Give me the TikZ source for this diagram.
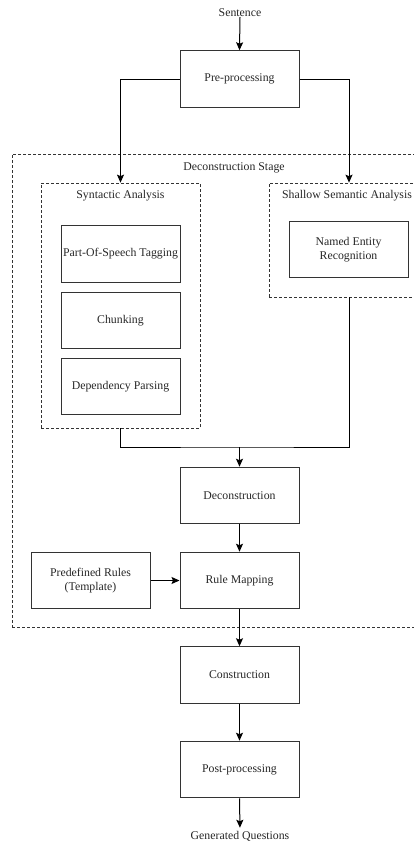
\documentclass[tikz,border=0pt]{standalone}
\usepackage{fontspec}
\setmainfont{Liberation Serif}
\usetikzlibrary{arrows.meta}
\begin{document}
\begin{tikzpicture}[x=1pt,y=-1pt,
  every node/.style={font=\fontsize{11.8}{13.8}\selectfont, inner sep=0pt, align=center, text=black!85},
  box/.style={draw=black!80, line width=1pt, minimum width=119pt, minimum height=56.5pt},
  grp/.style={draw=black!80, line width=0.7pt, dash pattern=on 3pt off 2pt},
  arr/.style={line width=1pt, -{Stealth[length=8pt,width=7pt,inset=1.5pt]}},
  ln/.style={line width=1pt}]
\useasboundingbox (0,0) rectangle (414,843);
\clip (0,0) rectangle (414,843);
% groups
\node[grp, minimum width=458pt, minimum height=473pt] (stage) at (241,390.5) {};
\node (stagetitle) at (234,168) {Deconstruction Stage};
\node[grp, minimum width=159pt, minimum height=245pt] (syn) at (120.5,305.5) {};
\node (syntitle) at (120.5,196) {Syntactic Analysis};
\node[grp, minimum width=160pt, minimum height=114pt] (sem) at (349,240) {};
\node (semtitle) at (347,196) {Shallow Semantic Analysis};
% boxes
\node (sent) at (240,13) {Sentence};
\node[box] (pre) at (239.5,79) {Pre-processing};
\node[box] (pos) at (120.5,254) {Part-Of-Speech Tagging};
\node[box] (chunk) at (120.5,320.5) {Chunking};
\node[box] (dep) at (120.5,386.5) {Dependency Parsing};
\node[box] (ner) at (348.5,249.5) {Named Entity\\Recognition};
\node[box] (dec) at (239.5,495.5) {Deconstruction};
\node[box] (rule) at (239.5,580.5) {Rule Mapping};
\node[box] (pred) at (90.5,580.5) {Predefined Rules\\(Template)};
\node[box] (cons) at (239.5,675) {Construction};
\node[box] (post) at (239.5,769.5) {Post-processing};
\node (gen) at (240,836) {Generated Questions};
\coordinate (j) at (239.5,447);
% connectors
\draw[arr] (sent.south) -- (pre.north);
\draw[arr] (pre.west) -| (syn.north);
\draw[arr] (pre.east) -| (sem.north);
\draw[ln] (syn.south) |- (j) -| (sem.south);
\draw[arr] (j) -- (dec.north);
\draw[arr] (dec.south) -- (rule.north);
\draw[arr] (pred.east) -- (rule.west);
\draw[arr] (rule.south) -- (cons.north);
\draw[arr] (cons.south) -- (post.north);
\draw[arr, shorten >=3pt] (post.south) -- (gen.north);
\end{tikzpicture}
\end{document}
